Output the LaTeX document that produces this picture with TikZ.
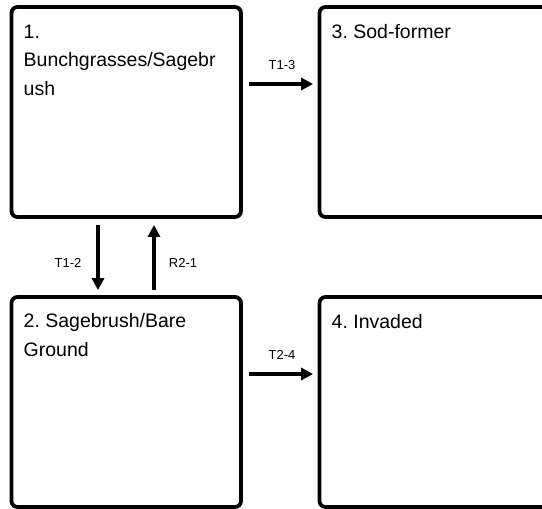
\documentclass[tikz,border=0pt]{standalone}
\usepackage{fontspec}
\setmainfont{Liberation Sans}
\frenchspacing
\usetikzlibrary{arrows.meta}
\begin{document}
\begin{tikzpicture}[x=1pt,y=-1pt,
  box/.style={draw=black, line width=3.8pt, rounded corners=6pt, minimum width=229.5pt, minimum height=210pt, inner sep=0pt},
  boxtext/.style={anchor=base west, inner sep=0pt, align=left, font=\fontsize{19.5pt}{28.5pt}\selectfont},
  lbl/.style={inner sep=0pt, font=\fontsize{13pt}{15pt}\selectfont},
  arr/.style={line width=3.2pt, -{Triangle[length=12pt,width=12pt]}}]
\useasboundingbox (0,0) rectangle (542,509);
\clip (0,0) rectangle (542,509);
\node[box] (b1) at (126.25,112) {};
\node[box] (b3) at (434.25,112) {};
\node[box] (b2) at (126.25,402) {};
\node[box] (b4) at (434.25,402) {};
\node[boxtext] (t1) at (23.5,95) {1.\\Bunchgrasses/Sagebr\\ush};
\node[boxtext] (t3) at (331.5,38) {3. Sod-former};
\node[boxtext] (t2) at (23.5,356) {2. Sagebrush/Bare\\Ground};
\node[boxtext] (t4) at (331.5,328) {4. Invaded};
\draw[arr, shorten <=6pt, shorten >=4.5pt] (b1.east |- 0,84) -- (b3.west |- 0,84);
\draw[arr, shorten <=6pt, shorten >=4.5pt] (b2.east |- 0,374) -- (b4.west |- 0,374);
\draw[arr, shorten <=6pt, shorten >=5pt] (b1.south -| 98,0) -- (b2.north -| 98,0);
\draw[arr, shorten <=5pt, shorten >=6pt] (b2.north -| 154,0) -- (b1.south -| 154,0);
\node[lbl] (l13) at (282,65.5) {T1-3};
\node[lbl] (l24) at (282,355) {T2-4};
\node[lbl] (l12) at (68,263) {T1-2};
\node[lbl] (l21) at (183,263) {R2-1};
\end{tikzpicture}
\end{document}
